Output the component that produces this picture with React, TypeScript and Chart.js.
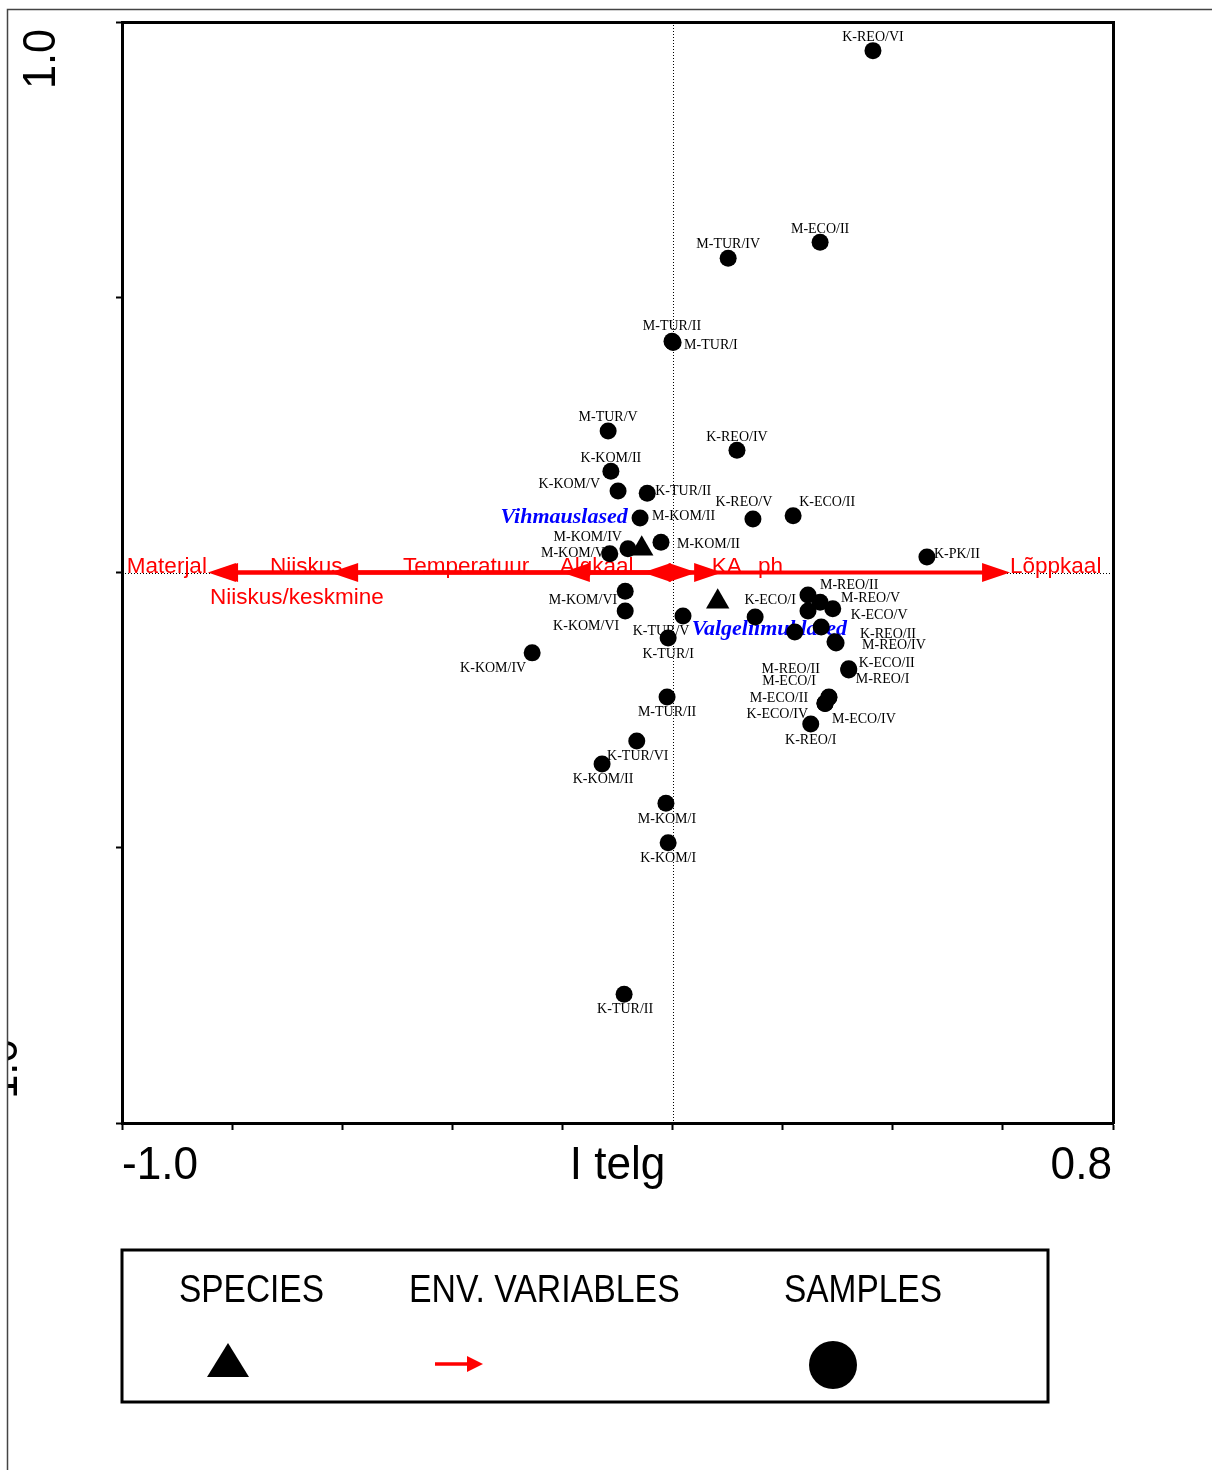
import React, { useEffect, useRef } from 'react';
import { Chart, registerables } from 'chart.js';

Chart.register(...registerables);

// ---------- DATA ----------
const sampleNames = [
  'K-REO/VI', 'M-ECO/II', 'M-TUR/IV', 'M-TUR/II', 'M-TUR/I', 'M-TUR/V', 'K-REO/IV', 'K-KOM/II',
  'K-KOM/V', 'K-TUR/II', 'M-KOM/II', 'K-REO/V', 'K-ECO/II', 'M-KOM/II', 'M-KOM/IV', 'M-KOM/V',
  'K-PK/II', 'M-KOM/VI', 'K-KOM/VI', 'K-TUR/V', 'K-TUR/I', 'K-ECO/I', 'M-REO/II', 'M-REO/V',
  'K-ECO/V', '', '', '', 'K-REO/II', 'M-REO/IV', 'K-ECO/II', 'M-REO/I',
  'M-REO/II', 'M-ECO/I', 'M-ECO/II', 'K-ECO/IV', 'M-ECO/IV', 'K-REO/I', 'K-KOM/IV', 'M-TUR/II',
  'K-TUR/VI', 'K-KOM/II', 'M-KOM/I', 'K-KOM/I', 'K-TUR/II',
];
const sampleX = [
  0.364, 0.268, 0.101, -0.001, 0.001, -0.117, 0.117, -0.112,
  -0.099, -0.046, -0.059, 0.146, 0.219, -0.021, -0.081, -0.114,
  0.462, -0.086, -0.086, 0.019, -0.008, 0.150, 0.246, 0.268,
  0.291, 0.246, 0.222, 0.270, 0.295, 0.297, 0.320, 0.320,
  0.284, 0.284, 0.277, 0.277, 0.277, 0.251, -0.255, -0.010,
  -0.065, -0.128, -0.012, -0.008, -0.088,
];
const sampleY = [
  0.948, 0.600, 0.571, 0.420, 0.418, 0.257, 0.222, 0.184,
  0.148, 0.144, 0.099, 0.097, 0.103, 0.055, 0.043, 0.034,
  0.028, -0.034, -0.070, -0.079, -0.119, -0.081, -0.041, -0.054,
  -0.066, -0.070, -0.108, -0.099, -0.126, -0.128, -0.175, -0.177,
  -0.226, -0.227, -0.237, -0.238, -0.238, -0.275, -0.146, -0.226,
  -0.306, -0.348, -0.419, -0.491, -0.766,
];
// label placement for the sample names (pixel offsets from the point)
const sampleLabelDX = [
  0, 0, 0, 0, 11, 0, 0, 0,
  -18, 8, 12, -9, 6, 16, -6, -5,
  7, -8, -6, -22, 0, 15, 12, 21,
  18, 0, 0, 0, 25, 26, 10, 7,
  -9, -13, -17, -17, 7, 0, -39, 0,
  1, 1, 1, 0, 1,
];
const sampleLabelDY = [
  -13, -13, -14, -15, 3, -14, -13, -13,
  -7, -2, -2, -17, -13, 2, -12, 0,
  -3, 9, 15, 15, 16, -17, -10, -4,
  6, 0, 0, 0, -8, 2, -6, 9,
  -28, -16, -5, 11, 16, 16, 15, 15,
  15, 15, 16, 16, 15,
];
const sampleLabelAlign = [
  'c', 'c', 'c', 'c', 'l', 'c', 'c', 'c',
  'r', 'l', 'l', 'c', 'l', 'l', 'r', 'r',
  'l', 'r', 'r', 'c', 'c', 'c', 'l', 'l',
  'l', 'c', 'c', 'c', 'l', 'l', 'l', 'l',
  'r', 'r', 'r', 'r', 'l', 'c', 'c', 'c',
  'c', 'c', 'c', 'c', 'c',
];

const speciesNames = ['Vihmauslased', 'Valgeliimuklased'];
const speciesX = [-0.056, 0.082];
const speciesY = [0.043, -0.053];
const speciesLabelDX = [-14, -26];
const speciesLabelDY = [-26, 33];
const speciesLabelAlign = ['r', 'l'];

const envNames = ['Materjal', 'Niiskus/keskmine', 'Niiskus', 'Temperatuur', 'Algkaal', 'KA', 'ph', 'Lõppkaal'];
const envX = [-0.844, -0.840, -0.622, -0.201, -0.054, 0.044, 0.090, 0.613];
const envY = [0, 0, 0, 0, 0, 0, 0, 0];
const envLabelDX = [-1, 0, -60, -159, -83, 15, 36, 0];
const envLabelDY = [0, 31, 0, 0, 0, 0, 0, 0];
const envLabelAlign = ['r', 'l', 'l', 'l', 'l', 'l', 'l', 'l'];

const xAxisMin = -1.0;
const xAxisMax = 0.8;
const yAxisMin = -1.0;
const yAxisMax = 1.0;
const xTickLabels = ['-1.0', '0.8'];
const xAxisTitle = 'I telg';
const yTickLabels = ['1.0', '-1.0'];
const legendTitles = ['SPECIES', 'ENV. VARIABLES', 'SAMPLES'];

// ---------- HELPERS ----------
const SANS = '"Liberation Sans", Arial, sans-serif';
const SERIF = '"Liberation Serif", "Times New Roman", serif';

function alignOf(a: string): CanvasTextAlign {
  return a === 'l' ? 'left' : a === 'r' ? 'right' : 'center';
}

function condensedText(
  ctx: CanvasRenderingContext2D, text: string, x: number, y: number,
  font: string, align: CanvasTextAlign, hScale: number, color: string, rotate = 0,
) {
  ctx.save();
  ctx.translate(x, y);
  if (rotate) ctx.rotate(rotate);
  ctx.scale(hScale, 1);
  ctx.font = font;
  ctx.textAlign = align;
  ctx.textBaseline = 'alphabetic';
  ctx.fillStyle = color;
  ctx.fillText(text, 0, 0);
  ctx.restore();
}

function arrow(ctx: CanvasRenderingContext2D, x0: number, y0: number, x1: number, y1: number,
  lw: number, headLen: number, headHalf: number, color: string) {
  const ang = Math.atan2(y1 - y0, x1 - x0);
  const c = Math.cos(ang), s = Math.sin(ang);
  const bx = x1 - c * headLen, by = y1 - s * headLen;
  ctx.save();
  ctx.strokeStyle = color;
  ctx.fillStyle = color;
  ctx.lineWidth = lw;
  ctx.beginPath();
  ctx.moveTo(x0, y0);
  ctx.lineTo(bx + c * 2, by + s * 2);
  ctx.stroke();
  ctx.beginPath();
  ctx.moveTo(x1, y1);
  ctx.lineTo(bx - s * headHalf, by + c * headHalf);
  ctx.lineTo(bx + s * headHalf, by - c * headHalf);
  ctx.closePath();
  ctx.fill();
  ctx.restore();
}

const ordinationPlugin = {
  id: 'ordination',
  beforeDraw(chart: any) {
    const ctx = chart.ctx as CanvasRenderingContext2D;
    ctx.save();
    ctx.fillStyle = '#ffffff';
    ctx.fillRect(0, 0, chart.width, chart.height);
    ctx.restore();
  },
  beforeDatasetsDraw(chart: any) {
    const ctx = chart.ctx as CanvasRenderingContext2D;
    const xs = chart.scales.x, ys = chart.scales.y;
    const { left, right, top, bottom } = chart.chartArea;
    const x0 = xs.getPixelForValue(0), y0 = ys.getPixelForValue(0);
    // dotted zero lines
    ctx.save();
    ctx.strokeStyle = '#000';
    ctx.lineWidth = 1;
    ctx.setLineDash([1, 2]);
    ctx.beginPath();
    ctx.moveTo(Math.round(x0) + 0.5, top);
    ctx.lineTo(Math.round(x0) + 0.5, bottom);
    ctx.moveTo(left, Math.round(y0) + 0.5);
    ctx.lineTo(right, Math.round(y0) + 0.5);
    ctx.stroke();
    ctx.restore();
    // environmental arrows
    envNames.forEach((_, i) => {
      const x1 = xs.getPixelForValue(envX[i]);
      const y1 = ys.getPixelForValue(envY[i]);
      arrow(ctx, x0, y0, x1, y1, 4, 28, 9.5, '#ff0000');
    });
    envNames.forEach((name, i) => {
      const x1 = xs.getPixelForValue(envX[i]);
      const y1 = ys.getPixelForValue(envY[i]);
      condensedText(ctx, name, x1 + envLabelDX[i], y1 + envLabelDY[i], `22.5px ${SANS}`,
        alignOf(envLabelAlign[i]), 1, '#ff0000');
    });
    // species names
    speciesNames.forEach((name, i) => {
      const px = xs.getPixelForValue(speciesX[i]);
      const py = ys.getPixelForValue(speciesY[i]);
      condensedText(ctx, name, px + speciesLabelDX[i], py + speciesLabelDY[i],
        `italic bold 22px ${SERIF}`, alignOf(speciesLabelAlign[i]), 1, '#0000ff');
    });
  },
  afterDatasetsDraw(chart: any) {
    const ctx = chart.ctx as CanvasRenderingContext2D;
    const meta = chart.getDatasetMeta(0);
    ctx.save();
    ctx.font = `14px ${SERIF}`;
    ctx.fillStyle = '#000';
    ctx.textBaseline = 'middle';
    meta.data.forEach((pt: any, i: number) => {
      const name = sampleNames[i];
      if (!name) return;
      ctx.textAlign = alignOf(sampleLabelAlign[i]);
      ctx.fillText(name, pt.x + sampleLabelDX[i], pt.y + sampleLabelDY[i]);
    });
    ctx.restore();
  },
  afterDraw(chart: any) {
    const ctx = chart.ctx as CanvasRenderingContext2D;
    const { left, right, bottom } = chart.chartArea;
    const axisFont = `46px ${SANS}`;
    // x axis texts
    condensedText(ctx, xTickLabels[0], left, bottom + 56, axisFont, 'left', 0.96, '#000');
    condensedText(ctx, xTickLabels[1], right - 1, bottom + 56, axisFont, 'right', 0.96, '#000');
    condensedText(ctx, xAxisTitle, (left + right) / 2, bottom + 56, axisFont, 'center', 0.96, '#000');
    // y axis texts (rotated)
    condensedText(ctx, yTickLabels[0], 55, 59, axisFont, 'center', 0.94, '#000', -Math.PI / 2);
    ctx.save();
    ctx.beginPath();
    ctx.rect(8, 0, 200, chart.height);
    ctx.clip();
    condensedText(ctx, yTickLabels[1], 17, 1076, axisFont, 'center', 0.94, '#000', -Math.PI / 2);
    ctx.restore();
    // outer frame
    ctx.save();
    ctx.strokeStyle = '#444';
    ctx.lineWidth = 1.5;
    ctx.beginPath();
    ctx.moveTo(7.5, chart.height);
    ctx.lineTo(7.5, 9.5);
    ctx.lineTo(chart.width, 9.5);
    ctx.stroke();
    ctx.restore();
    // legend box
    const lx = left, ly = 1250, lw = 926, lh = 152;
    ctx.save();
    ctx.strokeStyle = '#000';
    ctx.lineWidth = 3;
    ctx.strokeRect(lx, ly, lw, lh);
    ctx.restore();
    const legFont = `38px ${SANS}`;
    condensedText(ctx, legendTitles[0], lx + 57, 1302, legFont, 'left', 0.88, '#000');
    condensedText(ctx, legendTitles[1], lx + 287, 1302, legFont, 'left', 0.89, '#000');
    condensedText(ctx, legendTitles[2], lx + 662, 1302, legFont, 'left', 0.88, '#000');
    ctx.save();
    ctx.fillStyle = '#000';
    ctx.beginPath();
    ctx.moveTo(lx + 106, 1343);
    ctx.lineTo(lx + 127, 1377);
    ctx.lineTo(lx + 85, 1377);
    ctx.closePath();
    ctx.fill();
    ctx.beginPath();
    ctx.arc(lx + 711, 1365, 24, 0, Math.PI * 2);
    ctx.fill();
    ctx.restore();
    arrow(ctx, lx + 313, 1364, lx + 361, 1364, 3.5, 16, 8, '#ff0000');
  },
};

export default function App() {
  const ref = useRef<HTMLCanvasElement>(null);
  useEffect(() => {
    if (!ref.current) return;
    const chart = new Chart(ref.current, {
      type: 'scatter',
      data: {
        datasets: [
          {
            label: 'Samples',
            data: sampleX.map((x, i) => ({ x, y: sampleY[i] })),
            pointStyle: 'circle',
            pointRadius: 8.5,
            backgroundColor: '#000',
            borderColor: '#000',
            borderWidth: 0,
          },
          {
            label: 'Species',
            data: speciesX.map((x, i) => ({ x, y: speciesY[i] })),
            pointStyle: 'triangle',
            pointRadius: 13.5,
            backgroundColor: '#000',
            borderColor: '#000',
            borderWidth: 0,
          },
        ],
      },
      options: {
        animation: false,
        responsive: false,
        events: [],
        layout: { padding: { left: 116, top: 22, right: 99, bottom: 340 } },
        plugins: { legend: { display: false }, tooltip: { enabled: false } },
        scales: {
          x: {
            type: 'linear', position: 'bottom', min: xAxisMin, max: xAxisMax,
            ticks: { display: false, stepSize: 0.2 },
            grid: { drawOnChartArea: false, drawTicks: true, tickLength: 7, tickColor: '#000', tickWidth: 2 },
            border: { display: true, color: '#000', width: 3 },
          },
          y: {
            type: 'linear', position: 'left', min: yAxisMin, max: yAxisMax,
            ticks: { display: false, stepSize: 0.5 },
            grid: { drawOnChartArea: false, drawTicks: true, tickLength: 6, tickColor: '#000', tickWidth: 2 },
            border: { display: true, color: '#000', width: 3 },
          },
          x2: {
            type: 'linear', position: 'top', min: xAxisMin, max: xAxisMax,
            ticks: { display: false }, grid: { display: false, drawTicks: false },
            border: { display: true, color: '#000', width: 3 },
          },
          y2: {
            type: 'linear', position: 'right', min: yAxisMin, max: yAxisMax,
            ticks: { display: false }, grid: { display: false, drawTicks: false },
            border: { display: true, color: '#000', width: 3 },
          },
        },
      } as any,
      plugins: [ordinationPlugin],
    });
    return () => chart.destroy();
  }, []);
  return (
    <div style={{ position: 'absolute', left: 0, top: 0, width: 1212, height: 1470, background: '#fff' }}>
      <canvas ref={ref} width={1212} height={1470} style={{ display: 'block', width: 1212, height: 1470 }} />
    </div>
  );
}
